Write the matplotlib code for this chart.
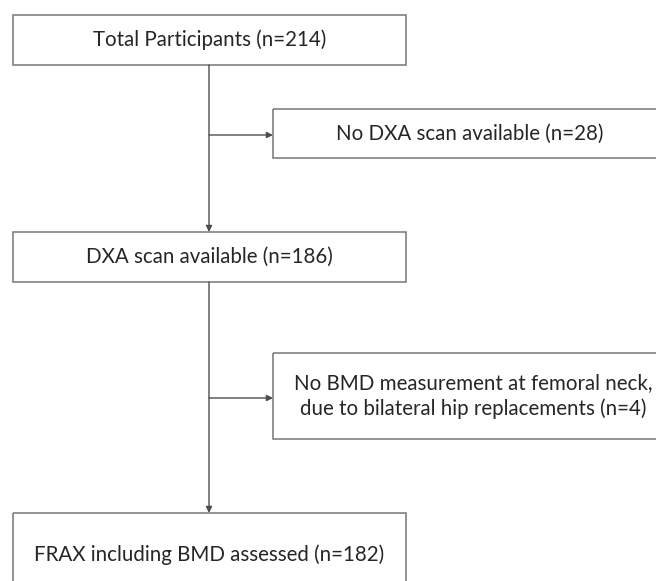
import matplotlib.pyplot as plt
from matplotlib.patches import Rectangle

# flowchart content
main_labels = ['Total Participants', 'DXA scan available', 'FRAX including BMD assessed']
main_counts = [214, 186, 182]
excl_labels = ['No DXA scan available',
               'No BMD measurement at femoral neck,\ndue to bilateral hip replacements']
excl_counts = [28, 4]

plt.rcParams['font.family'] = ['Lato', 'DejaVu Sans']

fig = plt.figure(figsize=(6.56, 5.81), dpi=100)
ax = fig.add_axes([0, 0, 1, 1])
ax.set_xlim(0, 656)
ax.set_ylim(581, 0)
ax.axis('off')

edge = '#767676'
line = '#4d4d4d'
txt = '#262626'
fs = 14.8

# layout (pixel units): x0, y0, w, h
main_boxes = [(13, 15, 393, 50), (13, 232, 393, 50), (13, 513, 393, 90)]
excl_boxes = [(273, 109, 394, 49), (273, 353, 400, 86)]
trunk_x = 209
branch_y = [135, 398]

def box(b, text, cy=None):
    x0, y0, w, h = b
    ax.add_patch(Rectangle((x0, y0), w, h, fill=False, ec=edge, lw=1.1))
    if cy is None:
        cy = y0 + h / 2
    ax.text(x0 + w / 2, cy, text, ha='center', va='center', fontsize=fs,
            color=txt, linespacing=1.3)

for i, b in enumerate(main_boxes):
    cy = 555 if i == 2 else None
    box(b, f'{main_labels[i]} (n={main_counts[i]})', cy)
for i, b in enumerate(excl_boxes):
    box(b, f'{excl_labels[i]} (n={excl_counts[i]})')

arr = dict(arrowstyle='-|>', color=line, lw=1.0, mutation_scale=9,
           shrinkA=0, shrinkB=0)
for i in range(2):
    top = main_boxes[i][1] + main_boxes[i][3]
    nxt = main_boxes[i + 1][1]
    ax.annotate('', xy=(trunk_x, nxt), xytext=(trunk_x, top), arrowprops=arr)
    ax.annotate('', xy=(excl_boxes[i][0], branch_y[i]),
                xytext=(trunk_x, branch_y[i]), arrowprops=arr)

fig.savefig('out.png', dpi=100, facecolor='white')
